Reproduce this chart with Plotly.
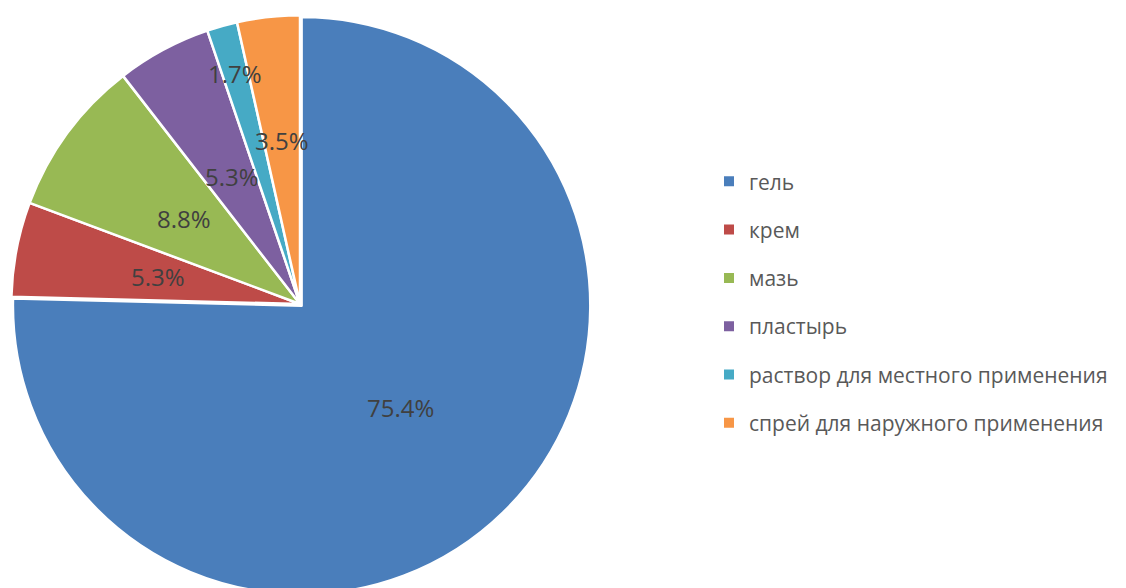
import math
import plotly.graph_objects as go

labels = ["гель", "крем", "мазь", "пластырь", "раствор для местного применения", "спрей для наружного применения"]
values = [75.4, 5.3, 8.8, 5.3, 1.7, 3.5]
colors = ["#4A7EBB", "#BE4B48", "#98B954", "#7D60A0", "#46AAC5", "#F79646"]
pulls = [0.008, 0, 0, 0, 0, 0]
# radial position of each percentage label, as a fraction of the radius
label_r = [0.5, 0.5, 0.5, 0.5, 0.83, 0.57]

OFF = 8  # browser body margin
W, H = 1126, 600
R = 289
PULL = max(pulls)
D = 2 * R * (1 + PULL)
CX, CY = 300 - OFF, 304 - OFF
T = CY - D / 2
B = H - T - D
x0 = max(0.0, (CX - D / 2) / W)

fig = go.Figure()
fig.add_trace(go.Pie(
    labels=labels, values=values, sort=False, direction="clockwise", rotation=0,
    pull=pulls,
    marker=dict(colors=colors, line=dict(color="white", width=2.5)),
    textinfo="none",
    domain=dict(x=[x0, x0 + D / W], y=[0, 1]),
    showlegend=False, hoverinfo="label+percent",
))
for i, (lab, col) in enumerate(zip(labels, colors)):
    fig.add_trace(go.Scatter(
        x=[None], y=[None], mode="markers", name=lab, legendgroup=f"g{i}",
        marker=dict(symbol="square", size=10, color=col), showlegend=True,
    ))

# percentage labels, placed at each slice's mid angle
total = sum(values)
cum = 0.0
annotations = []
for v, rf in zip(values, label_r):
    mid = (cum + v / 2) / total * 2 * math.pi
    cum += v
    px = CX + rf * R * math.sin(mid)
    py = CY - rf * R * math.cos(mid)
    annotations.append(dict(
        x=px / W, y=1 - (py - T) / D, xref="paper", yref="paper",
        text=f"{v:.1f}%", showarrow=False, xanchor="center", yanchor="middle",
        font=dict(family="Open Sans", size=24, color="#404040"),
    ))

fig.update_layout(
    width=W, height=H, autosize=False,
    margin=dict(l=0, r=0, t=T, b=B),
    paper_bgcolor="white", plot_bgcolor="white",
    xaxis=dict(visible=False), yaxis=dict(visible=False),
    annotations=annotations,
    legend=dict(
        x=(709 - OFF) / W, xanchor="left", y=1 - (161 - OFF - T) / D, yanchor="top",
        font=dict(family="Open Sans", size=21, color="#595959"),
        traceorder="grouped", tracegroupgap=18, itemwidth=30,
        bgcolor="rgba(0,0,0,0)",
    ),
)
fig.write_html("out.html", post_script="document.body.style.overflow='hidden';")
